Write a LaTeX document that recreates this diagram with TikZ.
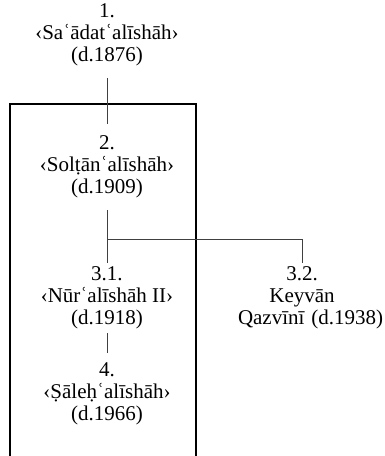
\documentclass[tikz,border=0pt]{standalone}
\usepackage{fontspec}
\setmainfont{Liberation Serif}
\usepackage{tikz}

\tikzset{
  person/.style={align=center, inner xsep=0pt, inner ysep=12pt, font=\fontsize{21}{22}\selectfont},
  link/.style={line width=0.7pt, draw=black!75},
  frame/.style={line width=1.2pt}
}

\begin{document}
\begin{tikzpicture}[x=1pt,y=-1pt]
\useasboundingbox (0,0) rectangle (385,456);

% generations
\node[person] (n1) at (107,35) {1.\\‹Saʿādatʿalīshāh›\\(d.1876)};
\node[person] (n2) at (107,167) {2.\\‹Solṭānʿalīshāh›\\(d.1909)};
\node[person, inner ysep=4pt] (n31) at (107,298) {3.1.\\‹Nūrʿalīshāh II›\\(d.1918)};
\node[person, inner ysep=4pt, text width=128pt] (n32) at (302,298) {3.2.\\Keyvān\\\mbox{Qazvīnī (d.1938)}};
\node[person, inner ysep=10pt] (n4) at (107,394) {4.\\‹Ṣāleḥʿalīshāh›\\(d.1966)};

% frame
\draw[frame] (10,456) -- (10,104) -- (196,104) -- (196,456);

% lines
\coordinate (fork) at (107,239);
\draw[link] (n1) -- (n2);
\draw[link] (n2) -- (n31);
\draw[link] (fork) -| (n32);
\draw[link] (n31) -- (n4);

\end{tikzpicture}
\end{document}
